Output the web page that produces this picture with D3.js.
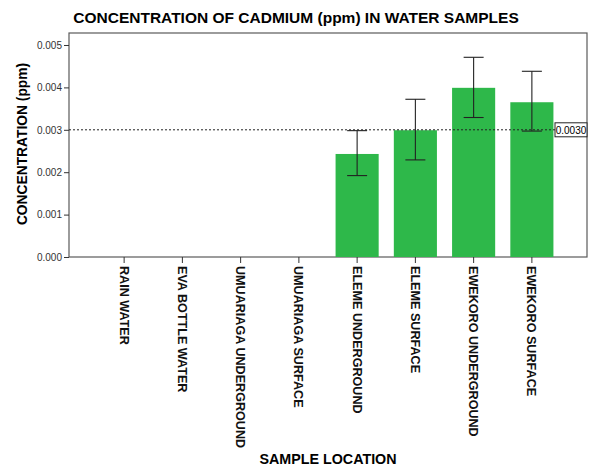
<!DOCTYPE html>
<html>
<head>
<meta charset="utf-8">
<script src="https://cdn.jsdelivr.net/npm/d3@7"></script>
<style>
  body { margin: 0; background: #fff; }
  text { font-family: Arial, "Liberation Sans", sans-serif; }
</style>
</head>
<body>
<svg class="plot" width="589" height="470"></svg>
<script>
// data
var locations = ["RAIN WATER", "EVA BOTTLE WATER", "UMUARIAGA UNDERGROUND", "UMUARIAGA SURFACE",
                 "ELEME UNDERGROUND", "ELEME SURFACE", "EWEKORO UNDERGROUND", "EWEKORO SURFACE"];
var means = [0, 0, 0, 0, 0.00243, 0.00299, 0.00399, 0.00365];
var errLow = [null, null, null, null, 0.00192, 0.00229, 0.00329, 0.00297];
var errHigh = [null, null, null, null, 0.00298, 0.00372, 0.00471, 0.00438];
var yTicks = [0, 0.001, 0.002, 0.003, 0.004, 0.005];
var refValue = 0.003;

var svg = d3.select(".plot"),
    frame = {left: 69, right: 587, top: 33, bottom: 257};

var x = d3.scaleBand().domain(locations).range([95, 561]).paddingInner(0.26).paddingOuter(0.13);
var y = d3.scaleLinear().domain([0, 0.005283]).range([frame.bottom, frame.top]);

// frame
svg.append("rect")
    .attr("x", frame.left).attr("y", frame.top)
    .attr("width", frame.right - frame.left).attr("height", frame.bottom - frame.top)
    .style("fill", "none").style("stroke", "#5a5a5a").style("stroke-width", 1.2);

// bars
svg.selectAll(".bar")
    .data(means)
    .enter().append("rect")
    .attr("class", "bar")
    .attr("x", function(d, i) { return x(locations[i]); })
    .attr("y", function(d) { return y(d); })
    .attr("width", x.bandwidth())
    .attr("height", function(d) { return frame.bottom - y(d); })
    .style("fill", "#2eb84a");

// reference line
svg.append("line")
    .attr("x1", frame.left).attr("x2", frame.right)
    .attr("y1", y(refValue)).attr("y2", y(refValue))
    .style("stroke", "#222").style("stroke-width", 1).style("stroke-dasharray", "2,2");

// error bars
var eb = svg.selectAll(".err")
    .data(means.map(function(d, i) { return i; }).filter(function(i) { return errLow[i] != null; }))
    .enter().append("g").attr("class", "err")
    .style("stroke", "#222").style("stroke-width", 1.1);
eb.append("line")
    .attr("x1", function(i) { return x(locations[i]) + x.bandwidth() / 2; })
    .attr("x2", function(i) { return x(locations[i]) + x.bandwidth() / 2; })
    .attr("y1", function(i) { return y(errLow[i]); })
    .attr("y2", function(i) { return y(errHigh[i]); });
[errLow, errHigh].forEach(function(arr) {
  eb.append("line")
      .attr("x1", function(i) { return x(locations[i]) + x.bandwidth() / 2 - 10; })
      .attr("x2", function(i) { return x(locations[i]) + x.bandwidth() / 2 + 10; })
      .attr("y1", function(i) { return y(arr[i]); })
      .attr("y2", function(i) { return y(arr[i]); });
});

// reference label box
var refG = svg.append("g").attr("transform", "translate(555," + (y(refValue) - 7) + ")");
refG.append("rect").attr("width", 32).attr("height", 14)
    .style("fill", "#fff").style("stroke", "#222").style("stroke-width", 1);
refG.append("text").attr("x", 16).attr("y", 11)
    .style("font-size", "10px").style("text-anchor", "middle").text("0.0030");

// y axis
var yAxis = svg.append("g")
    .attr("transform", "translate(" + frame.left + ",0)")
    .call(d3.axisLeft(y).tickValues(yTicks).tickFormat(d3.format(".3f")).tickSize(5).tickPadding(2));
yAxis.select(".domain").remove();
yAxis.selectAll("line").style("stroke", "#333");
yAxis.selectAll("text").style("font-size", "10px").style("fill", "#333")
    .style("font-family", "Arial, 'Liberation Sans', sans-serif");

// x axis
var xAxis = svg.append("g")
    .attr("transform", "translate(0," + frame.bottom + ")")
    .call(d3.axisBottom(x).tickSize(6).tickSizeOuter(0));
xAxis.select(".domain").remove();
xAxis.selectAll("line").style("stroke", "#333");
xAxis.selectAll("text")
    .attr("transform", "rotate(90)")
    .attr("x", 9).attr("y", 0).attr("dy", "0.35em")
    .style("text-anchor", "start")
    .style("font-size", "12.6px").style("font-weight", "bold").style("fill", "#111")
    .style("font-family", "Arial, 'Liberation Sans', sans-serif");

// titles
svg.append("text")
    .attr("x", 296).attr("y", 23)
    .style("font-size", "15.5px").style("font-weight", "bold").style("text-anchor", "middle")
    .text("CONCENTRATION OF CADMIUM (ppm) IN WATER SAMPLES");

svg.append("text")
    .attr("transform", "translate(27,144) rotate(-90)")
    .style("font-size", "13.8px").style("font-weight", "bold").style("text-anchor", "middle")
    .text("CONCENTRATION (ppm)");

svg.append("text")
    .attr("x", 328).attr("y", 464)
    .style("font-size", "14.3px").style("font-weight", "bold").style("text-anchor", "middle")
    .text("SAMPLE LOCATION");
</script>
</body>
</html>
